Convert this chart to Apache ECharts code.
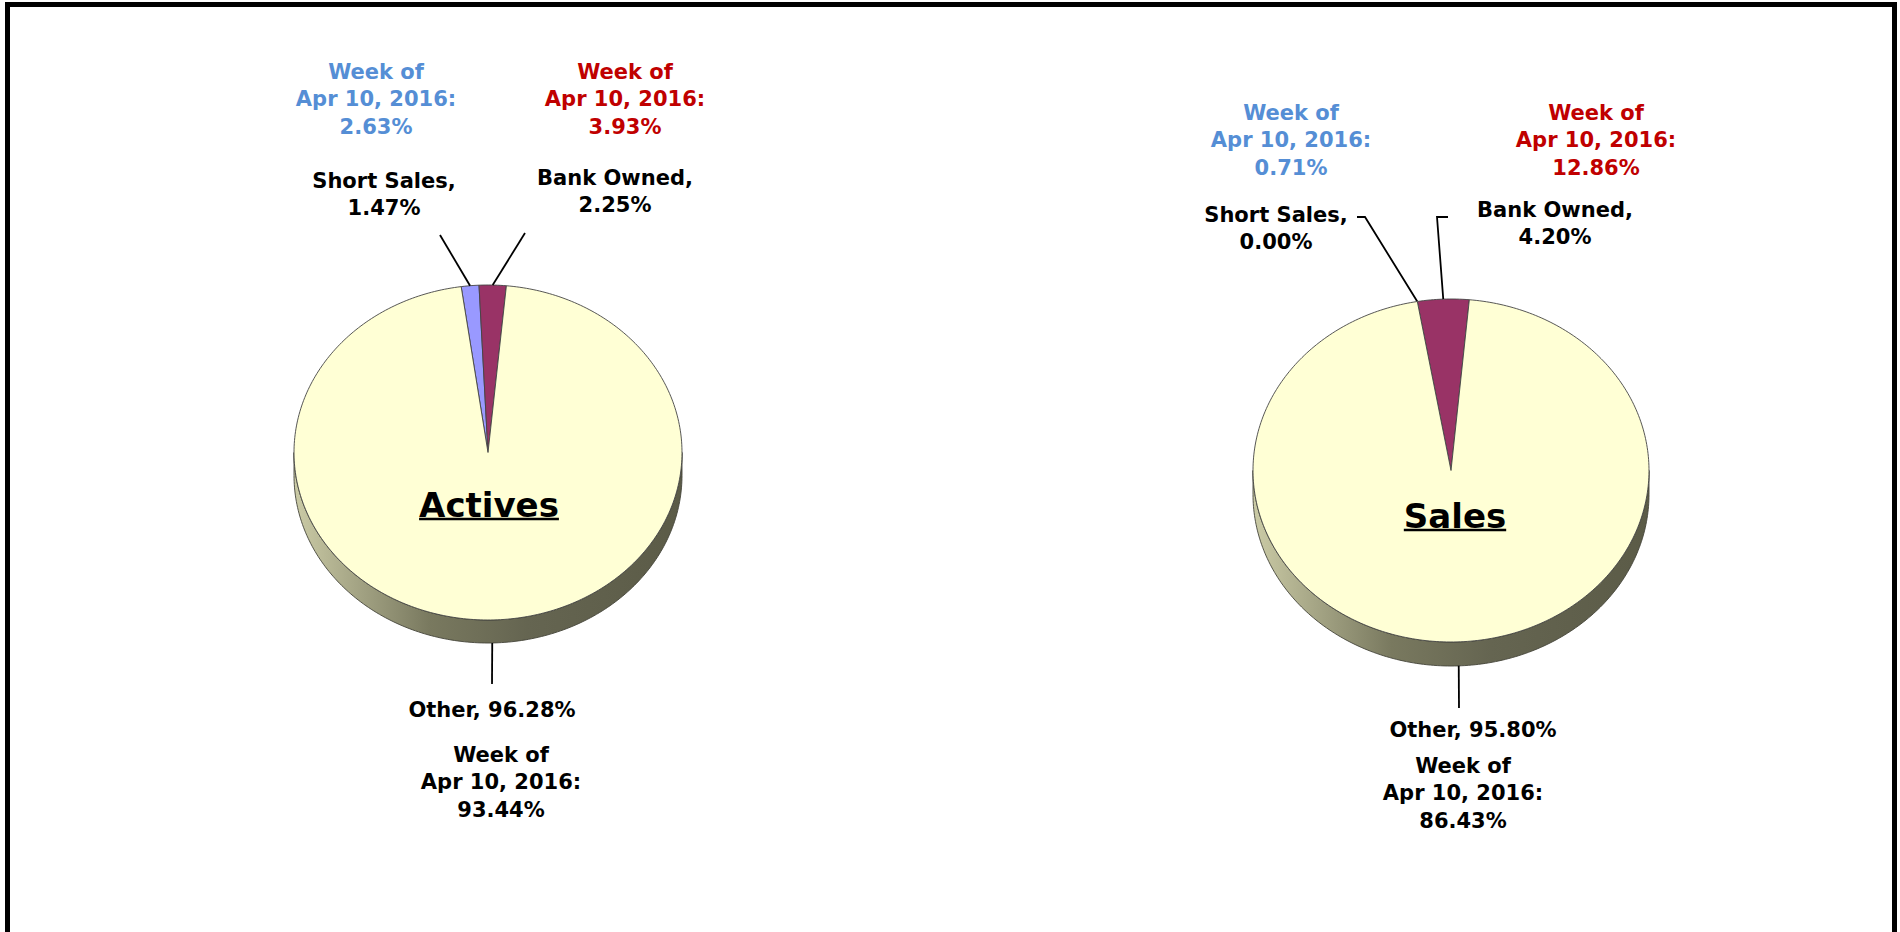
<!DOCTYPE html>
<html>
<head>
<meta charset="utf-8">
<script src="https://cdn.jsdelivr.net/npm/echarts@6/dist/echarts.min.js"></script>
<style>
  html, body { margin: 0; padding: 0; background: #fff; }
  #chart { width: 1900px; height: 932px; }
</style>
</head>
<body>
<div id="chart"></div>
<script>
// data
const categories = ['Short Sales', 'Bank Owned', 'Other'];
const activesNow = [1.47, 2.25, 96.28];
const activesPrior = [2.63, 3.93, 93.44];
const salesNow = [0.00, 4.20, 95.80];
const salesPrior = [0.71, 12.86, 86.43];
const weekOf = 'Apr 10, 2016';
const pieTitles = ['Actives', 'Sales'];

// styles
const sliceColors = ['#9999FF', '#993366', '#FFFFD5'];
const sideColors = ['#6b6bb3', '#6b2447', null];
const priorColors = ['#558ED5', '#C00000', '#000000'];
const FONT = 'bold 21px "DejaVu Sans", sans-serif';
const TITLE_FONT = 'bold 34px "DejaVu Sans", sans-serif';

// layout of the two pies (pixels)
const pies = [
  {
    now: activesNow, prior: activesPrior, title: pieTitles[0],
    cx: 488, cy: 452.5, rx: 194, ry: 167.5, depth: 23, start: -7.95,
    titlePos: [489, 505],
    labels: [
      { x: 384, y: 167, wrap: true, line: [[440, 235]], px: 376, py: 58 },
      { x: 615, y: 164, wrap: true, line: [[525, 233]], px: 625, py: 58 },
      { x: 492, y: 696, wrap: false, line: [[492, 684]], px: 501, py: 741 }
    ]
  },
  {
    now: salesNow, prior: salesPrior, title: pieTitles[1],
    cx: 1451, cy: 470.5, rx: 198, ry: 171.5, depth: 24, start: -9.8,
    titlePos: [1455, 516],
    labels: [
      { x: 1276, y: 201, wrap: true, line: [[1357, 217], [1365, 217]], px: 1291, py: 99 },
      { x: 1555, y: 196, wrap: true, line: [[1448, 217], [1437, 217]], px: 1596, py: 99 },
      { x: 1473, y: 716, wrap: false, line: [[1459, 708]], px: 1463, py: 752 }
    ]
  }
];

function edge(p, deg, down) {
  const t = deg * Math.PI / 180;
  return [p.cx + p.rx * Math.sin(t), p.cy - p.ry * Math.cos(t) + (down ? p.depth : 0)];
}

function arc(p, a0, a1, down) {
  const pts = [];
  const n = Math.max(2, Math.ceil(Math.abs(a1 - a0)));
  for (let k = 0; k <= n; k++) pts.push(edge(p, a0 + (a1 - a0) * k / n, down));
  return pts;
}

function sideFill(p, i) {
  if (sideColors[i]) return sideColors[i];
  return {
    type: 'linear', x: p.cx - p.rx, y: 0, x2: p.cx + p.rx, y2: 0, global: true,
    colorStops: [
      { offset: 0, color: '#cbcba6' },
      { offset: 0.15, color: '#a7a787' },
      { offset: 0.35, color: '#79795f' },
      { offset: 0.6, color: '#656551' },
      { offset: 1, color: '#5b5b47' }
    ]
  };
}

function textEl(x, y, text, color) {
  return {
    type: 'text', x: x, y: y,
    style: {
      text: text, fill: color, font: FONT,
      align: 'center', verticalAlign: 'top',
      textAlign: 'center', textVerticalAlign: 'top',
      lineHeight: 27.5
    }
  };
}

function makeRenderItem(p) {
  const total = p.now.reduce((a, b) => a + b, 0);
  return function (params, api) {
    const i = params.dataIndex;
    const v = api.value(0);
    const before = p.now.slice(0, i).reduce((a, b) => a + b, 0);
    const a0 = p.start + before / total * 360;
    const a1 = a0 + v / total * 360;
    const mid = (a0 + a1) / 2;
    const children = [];

    // visible side of the slice (front half)
    const f0 = Math.max(a0, 90), f1 = Math.min(a1, 270);
    if (f1 > f0) {
      children.push({
        type: 'polygon',
        shape: { points: arc(p, f0, f1, false).concat(arc(p, f1, f0, true)) },
        style: { fill: sideFill(p, i), stroke: '#45453a', lineWidth: 0.9 }
      });
    }
    // top face
    if (v > 0) {
      children.push({
        type: 'polygon',
        shape: { points: [[p.cx, p.cy]].concat(arc(p, a0, a1, false)) },
        style: { fill: sliceColors[i], stroke: '#444', lineWidth: 0.9 }
      });
    }

    // leader line and labels
    const lab = p.labels[i];
    const anchor = edge(p, mid, Math.cos(mid * Math.PI / 180) < 0);
    children.push({
      type: 'polyline',
      shape: { points: lab.line.concat([anchor]) },
      style: { stroke: '#000', lineWidth: 1.8, fill: null }
    });
    const nowText = categories[i] + ',' + (lab.wrap ? '\n' : ' ') + v.toFixed(2) + '%';
    children.push(textEl(lab.x, lab.y, nowText, '#000'));
    const priorText = 'Week of\n' + weekOf + ':\n' + p.prior[i].toFixed(2) + '%';
    children.push(textEl(lab.px, lab.py, priorText, priorColors[i]));

    return { type: 'group', children: children };
  };
}

const measure = document.createElement('canvas').getContext('2d');
measure.font = TITLE_FONT;

const graphic = [{
  type: 'rect', silent: true,
  shape: { x: 7.5, y: 4.5, width: 1887, height: 1000 },
  style: { fill: null, stroke: '#000', lineWidth: 5 }
}];
pies.forEach(function (p) {
  const w = measure.measureText(p.title).width;
  const [tx, ty] = p.titlePos;
  graphic.push({
    type: 'text', x: tx, y: ty, z: 10,
    style: {
      text: p.title, font: TITLE_FONT, fill: '#000',
      align: 'center', verticalAlign: 'middle',
      textAlign: 'center', textVerticalAlign: 'middle'
    }
  });
  graphic.push({
    type: 'line', z: 10,
    shape: { x1: tx - w / 2, y1: ty + 14, x2: tx + w / 2, y2: ty + 14 },
    style: { stroke: '#000', lineWidth: 2.5 }
  });
});

const chart = echarts.init(document.getElementById('chart'), null, { renderer: 'svg' });
chart.setOption({
  animation: false,
  backgroundColor: '#fff',
  graphic: graphic,
  series: pies.map(function (p) {
    return {
      type: 'custom',
      coordinateSystem: 'none',
      silent: true,
      data: p.now,
      renderItem: makeRenderItem(p)
    };
  })
});
</script>
</body>
</html>
